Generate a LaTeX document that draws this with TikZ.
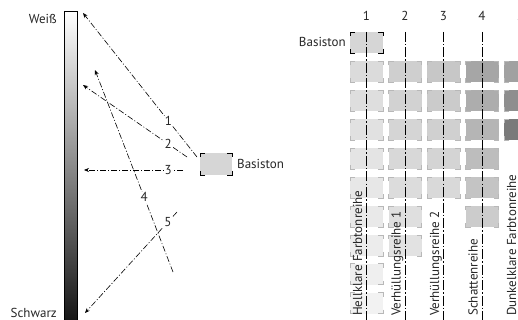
\documentclass[tikz,border=0pt]{standalone}
\usepackage{fontspec}
\setmainfont{PT Sans}
\usepackage{tikz}
\usetikzlibrary{arrows.meta,positioning,calc}

\tikzset{
  strahl/.style={line width=0.6pt, dash pattern=on 6pt off 2pt on 1pt off 2pt, -{Stealth[length=5pt,width=4pt]}},
  spalte/.style={line width=0.7pt, dash pattern=on 10pt off 2pt on 1.5pt off 2pt},
  ton/.style={minimum width=33pt, minimum height=21pt, inner sep=0pt, outer sep=0pt},
  txt/.style={text=black!85, inner sep=0pt, font=\fontsize{13}{15}\selectfont},
  nr/.style={txt, fill=white, inner sep=0.8pt},
}
% Eckmarken an einem Farbfeld
\newcommand\eckmarken[2]{%
  \draw[#2, line width=0.7pt] ([yshift=-4pt]#1.north west) -- (#1.north west) -- ([xshift=5pt]#1.north west);
  \draw[#2, line width=0.7pt] ([xshift=-5pt]#1.north east) -- (#1.north east) -- ([yshift=-4pt]#1.north east);
  \draw[#2, line width=0.7pt] ([yshift=4pt]#1.south east) -- (#1.south east) -- ([xshift=-5pt]#1.south east);
  \draw[#2, line width=0.7pt] ([xshift=5pt]#1.south west) -- (#1.south west) -- ([yshift=4pt]#1.south west);
}

\begin{document}
\begin{tikzpicture}[x=1pt, y=-1pt]
    \useasboundingbox (0,0) rectangle (518,320);
    \clip (0,0) rectangle (518,320);

    % Grauskala
    \node [draw, line width=0.6pt, top color=white, bottom color=black!92, minimum width=13pt, minimum height=312pt, inner sep=0pt] (skala) at (70.5,167) {};
    \node [txt, anchor=base east] (weiss) at (57,24) {Weiß};
    \node [txt, anchor=base east] (schwarz) at (57,317) {Schwarz};

    % Basiston links
    \node [ton, fill=black!16, minimum width=32pt, minimum height=22pt] (basis) at (216,164) {};
    \eckmarken{basis}{black}
    \node [txt, anchor=base west] (basistext) at (237,168) {Basiston};

    % Endpunkte der Strahlen
    \coordinate (w1) at (83,13);
    \coordinate (w2) at (83,85);
    \coordinate (w3) at (84,170);
    \coordinate (s4) at (173,272);
    \coordinate (w4) at (95,70);
    \coordinate (s5) at (177,212);
    \coordinate (w5) at (85,313);

    \draw [strahl] ([shift={(-3pt,-4pt)}]basis.north west) -- node [nr, pos=0.25] {1} (w1);
    \draw [strahl] ([shift={(-13pt,-4pt)}]basis.north west) -- node [nr, pos=0.18] {2} (w2);
    \draw [strahl] ([shift={(-17pt,-6pt)}]basis.west) -- node [nr, pos=0.15] {3} (w3);
    \draw [strahl] (s4) -- node [nr, pos=0.37] {4} (w4);
    \draw [strahl] (s5) -- node [nr, pos=0.1] {5} (w5);

    % Farbfelder rechts
    \foreach \c/\n/\hell/\schritt in {1/9/14/-1.1, 2/7/19/-1.3, 3/5/22/-1.75, 4/6/35/-3, 5/3/37/7.5} {
        \foreach \r in {1,...,\n} {
            \pgfmathsetmacro\s{\hell+\schritt*(\r-1)}
            \node [ton, fill=black!\s] (t\c\r) at ({366.5+38.5*(\c-1)},{72+28.9*(\r-1)}) {};
            \eckmarken{t\c\r}{black!28}
        }
    }
    \node [ton, fill=black!16] (basis2) at (366.5,42.5) {};
    \eckmarken{basis2}{black}
    \node [txt, anchor=base east] (basistext2) at (346,47) {Basiston};

    % Spalten
    \foreach \c/\name in {1/Hellklare Farbtonreihe, 2/Verhüllungsreihe 1, 3/Verhüllungsreihe 2, 4/Schattenreihe, 5/Dunkelklare Farbtonreihe} {
        \coordinate (o\c) at ({366.5+38.5*(\c-1)},32);
        \coordinate (u\c) at ({366.5+38.5*(\c-1)},322);
        \node [txt, anchor=base] (nr\c) at ({366.5+38.5*(\c-1)},21) {\c};
        \draw [spalte] (o\c) -- (u\c);
        \node [txt, rotate=90, anchor=base west] (reihe\c) at ({362+38.5*(\c-1)},316) {\name};
    }
\end{tikzpicture}
\end{document}
